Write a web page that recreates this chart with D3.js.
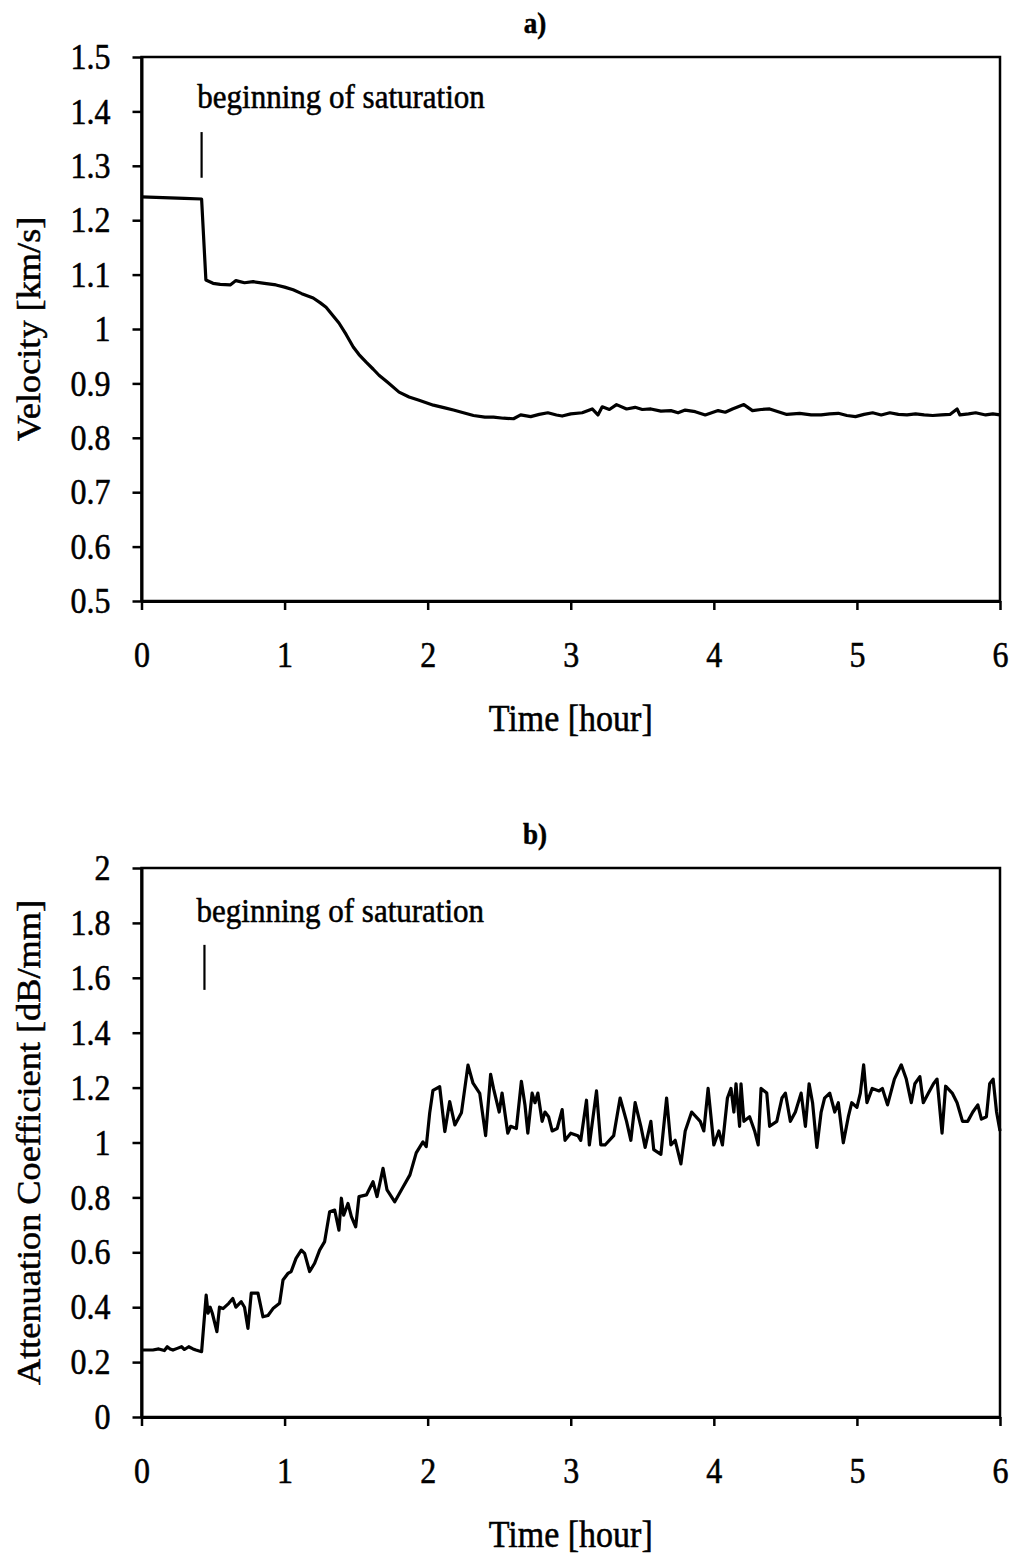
<!DOCTYPE html>
<html>
<head>
<meta charset="utf-8">
<script src="https://cdn.jsdelivr.net/npm/d3@7"></script>
<style>
  body { margin: 0; background: #fff; }
  svg text { font-family: "Liberation Serif", "Times New Roman", serif; fill: #000; stroke: #000; stroke-width: 0.5px; }
</style>
</head>
<body>
<svg id="chart" width="1015" height="1558"></svg>
<script>
// tick values for both panels
var timeTicks = [0, 1, 2, 3, 4, 5, 6];
var velocityTicks = [0.5, 0.6, 0.7, 0.8, 0.9, 1, 1.1, 1.2, 1.3, 1.4, 1.5];
var attenTicks = [0, 0.2, 0.4, 0.6, 0.8, 1, 1.2, 1.4, 1.6, 1.8, 2];

// a) velocity [km/s] vs time [hour]
var velocityData = [
  [0, 1.243], [0.1, 1.242], [0.2, 1.241], [0.3, 1.240], [0.42, 1.239], [0.45, 1.090],
  [0.5, 1.084], [0.55, 1.082], [0.62, 1.081], [0.66, 1.089], [0.72, 1.085], [0.78, 1.087],
  [0.86, 1.084], [0.94, 1.081], [1.0, 1.077], [1.06, 1.072], [1.12, 1.065], [1.2, 1.057],
  [1.25, 1.048], [1.29, 1.040], [1.33, 1.027], [1.38, 1.011], [1.43, 0.990], [1.48, 0.967],
  [1.52, 0.953], [1.57, 0.939], [1.62, 0.926], [1.66, 0.915], [1.72, 0.902], [1.8, 0.884],
  [1.87, 0.875], [1.94, 0.869], [2.04, 0.860], [2.12, 0.855], [2.18, 0.851], [2.25, 0.846],
  [2.32, 0.841], [2.4, 0.838], [2.46, 0.838], [2.53, 0.836], [2.6, 0.835], [2.65, 0.842],
  [2.72, 0.839], [2.78, 0.843], [2.84, 0.846], [2.9, 0.842], [2.94, 0.840], [3.0, 0.844],
  [3.08, 0.846], [3.15, 0.853], [3.19, 0.842], [3.22, 0.857], [3.27, 0.852], [3.32, 0.861],
  [3.39, 0.853], [3.45, 0.856], [3.5, 0.852], [3.56, 0.853], [3.63, 0.849], [3.7, 0.850],
  [3.75, 0.846], [3.8, 0.851], [3.87, 0.848], [3.94, 0.842], [4.03, 0.850], [4.08, 0.847],
  [4.13, 0.853], [4.21, 0.861], [4.27, 0.850], [4.33, 0.852], [4.39, 0.853], [4.45, 0.848],
  [4.51, 0.843], [4.6, 0.845], [4.68, 0.842], [4.75, 0.842], [4.81, 0.844], [4.87, 0.845],
  [4.93, 0.841], [4.99, 0.839], [5.05, 0.843], [5.11, 0.846], [5.17, 0.842], [5.23, 0.846],
  [5.29, 0.843], [5.35, 0.842], [5.41, 0.844], [5.47, 0.842], [5.53, 0.841], [5.59, 0.842],
  [5.65, 0.843], [5.7, 0.853], [5.72, 0.842], [5.78, 0.844], [5.83, 0.846], [5.9, 0.842],
  [5.95, 0.844], [6.0, 0.842]
];

// b) attenuation coefficient [dB/mm] vs time [hour]
var attenData = [
  [0, 0.244], [0.08, 0.244], [0.12, 0.248], [0.16, 0.242], [0.18, 0.256], [0.2, 0.248],
  [0.22, 0.244], [0.25, 0.250], [0.28, 0.256], [0.3, 0.246], [0.33, 0.256], [0.36, 0.248],
  [0.38, 0.244], [0.42, 0.238], [0.452, 0.444], [0.465, 0.378], [0.48, 0.400], [0.495, 0.378],
  [0.527, 0.311], [0.545, 0.400], [0.57, 0.395], [0.61, 0.414], [0.638, 0.432], [0.66, 0.400],
  [0.697, 0.420], [0.72, 0.400], [0.744, 0.323], [0.767, 0.451], [0.814, 0.451], [0.849, 0.365],
  [0.884, 0.370], [0.919, 0.395], [0.965, 0.414], [0.989, 0.499], [1.023, 0.523], [1.046, 0.530],
  [1.08, 0.578], [1.117, 0.608], [1.14, 0.596], [1.175, 0.530], [1.21, 0.560], [1.245, 0.608],
  [1.28, 0.639], [1.315, 0.748], [1.35, 0.754], [1.38, 0.681], [1.397, 0.797], [1.413, 0.735],
  [1.443, 0.778], [1.467, 0.730], [1.497, 0.693], [1.52, 0.803], [1.572, 0.809], [1.618, 0.857],
  [1.646, 0.803], [1.688, 0.906], [1.716, 0.827], [1.77, 0.784], [1.829, 0.839], [1.876, 0.882],
  [1.92, 0.962], [1.967, 1.002], [1.99, 0.985], [2.014, 1.107], [2.037, 1.190], [2.084, 1.203],
  [2.12, 1.040], [2.154, 1.149], [2.19, 1.064], [2.236, 1.108], [2.282, 1.282], [2.317, 1.216],
  [2.364, 1.179], [2.405, 1.025], [2.44, 1.248], [2.46, 1.197], [2.50, 1.111], [2.52, 1.180],
  [2.56, 1.034], [2.58, 1.059], [2.62, 1.051], [2.655, 1.223], [2.68, 1.137], [2.70, 1.034],
  [2.73, 1.180], [2.75, 1.145], [2.77, 1.180], [2.80, 1.077], [2.82, 1.111], [2.845, 1.094],
  [2.87, 1.042], [2.905, 1.051], [2.94, 1.120], [2.96, 1.008], [3.0, 1.034], [3.05, 1.025],
  [3.07, 1.008], [3.11, 1.154], [3.13, 0.991], [3.18, 1.188], [3.21, 0.991], [3.24, 0.991],
  [3.30, 1.025], [3.345, 1.162], [3.39, 1.077], [3.42, 1.008], [3.45, 1.145], [3.49, 1.059],
  [3.52, 0.982], [3.56, 1.077], [3.58, 0.974], [3.63, 0.957], [3.67, 1.162], [3.70, 0.991],
  [3.73, 1.008], [3.77, 0.922], [3.80, 1.042], [3.845, 1.111], [3.905, 1.077], [3.93, 1.042],
  [3.96, 1.197], [4.0, 0.991], [4.035, 1.042], [4.06, 0.991], [4.095, 1.162], [4.12, 1.197],
  [4.14, 1.111], [4.155, 1.214], [4.18, 1.059], [4.19, 1.214], [4.21, 1.077], [4.25, 1.094],
  [4.285, 1.042], [4.31, 0.991], [4.33, 1.197], [4.37, 1.180], [4.39, 1.059], [4.44, 1.077],
  [4.476, 1.162], [4.50, 1.180], [4.535, 1.077], [4.57, 1.111], [4.61, 1.180], [4.64, 1.059],
  [4.666, 1.214], [4.69, 1.145], [4.72, 0.982], [4.75, 1.111], [4.774, 1.162], [4.81, 1.180],
  [4.845, 1.111], [4.87, 1.145], [4.905, 0.999], [4.94, 1.094], [4.964, 1.145], [5.0, 1.128],
  [5.024, 1.180], [5.047, 1.283], [5.07, 1.145], [5.107, 1.197], [5.155, 1.188], [5.178, 1.197],
  [5.214, 1.137], [5.262, 1.231], [5.31, 1.283], [5.345, 1.231], [5.38, 1.145], [5.405, 1.214],
  [5.44, 1.240], [5.464, 1.145], [5.50, 1.180], [5.535, 1.214], [5.56, 1.231], [5.595, 1.034],
  [5.62, 1.205], [5.666, 1.180], [5.70, 1.145], [5.738, 1.077], [5.774, 1.077], [5.81, 1.111],
  [5.845, 1.137], [5.87, 1.085], [5.905, 1.094], [5.928, 1.214], [5.952, 1.231], [5.976, 1.111],
  [6.0, 1.042]
];

var svg = d3.select("#chart");
var stretch = 1.1; // the scan is a little taller than wide, text follows it
var fmt = d3.format("~g");

// place a text with the same vertical stretch as the scan
function addText(x, y, str, size, rotate) {
  return svg.append("text")
    .attr("transform", "translate(" + x + "," + y + ") scale(1," + stretch + ")" + (rotate ? " rotate(-90)" : ""))
    .attr("font-size", size)
    .text(str);
}

// one panel: frame, axes, curve, annotation
function drawPanel(cfg) {
  var x = d3.scaleLinear().domain([0, 6]).range([141.5, 1000]);
  var y = d3.scaleLinear().domain(cfg.yDomain).range([cfg.bottom, cfg.top]);

  // frame
  svg.append("rect")
    .attr("x", x(0)).attr("y", cfg.top)
    .attr("width", x(6) - x(0)).attr("height", cfg.bottom - cfg.top)
    .attr("fill", "none").attr("stroke", "#000").attr("stroke-width", 2.5);

  var yAxis = svg.append("g")
    .attr("transform", "translate(" + x(0) + ",0)")
    .call(d3.axisLeft(y).tickValues(cfg.yTicks).tickFormat(fmt).tickSize(9).tickSizeOuter(0).tickPadding(22));
  yAxis.select(".domain").attr("stroke-width", 3);
  yAxis.selectAll(".tick line").attr("stroke-width", 2.5);
  yAxis.selectAll(".tick text")
    .attr("font-size", 32).attr("font-family", null)
    .attr("dy", "0.33em").attr("transform", "scale(1," + stretch + ")");

  var xAxis = svg.append("g")
    .attr("transform", "translate(0," + cfg.bottom + ")")
    .call(d3.axisBottom(x).tickValues(timeTicks).tickFormat(fmt).tickSize(9).tickSizeOuter(0));
  xAxis.select(".domain").attr("stroke-width", 3);
  xAxis.selectAll(".tick line").attr("stroke-width", 2.5);
  xAxis.selectAll(".tick text")
    .attr("font-size", 32).attr("font-family", null)
    .attr("y", 66 / stretch).attr("dy", 0).attr("transform", "scale(1," + stretch + ")");

  // curve
  var line = d3.line().x(function (d) { return x(d[0]); }).y(function (d) { return y(d[1]); });
  svg.append("path")
    .datum(cfg.data)
    .attr("d", line)
    .attr("fill", "none").attr("stroke", "#000")
    .attr("stroke-width", 3.2).attr("stroke-linejoin", "round");

  // beginning of saturation marker
  svg.append("line")
    .attr("x1", x(cfg.mark[0])).attr("x2", x(cfg.mark[0]))
    .attr("y1", y(cfg.mark[1])).attr("y2", y(cfg.mark[2]))
    .attr("stroke", "#000").attr("stroke-width", 2.2);
  addText(x(cfg.note[0]), y(cfg.note[1]), "beginning of saturation", 31);

  // titles
  addText(535, cfg.top - 24, cfg.title, 27).attr("font-weight", "bold").attr("text-anchor", "middle");
  addText((x(0) + x(6)) / 2, cfg.bottom + 130, "Time [hour]", 34).attr("text-anchor", "middle");
  addText(40, (cfg.top + cfg.bottom) / 2, cfg.yLabel, 33, true).attr("text-anchor", "middle");
}

drawPanel({
  title: "a)", yLabel: "Velocity [km/s]",
  top: 57, bottom: 601, yDomain: [0.5, 1.5], yTicks: velocityTicks,
  data: velocityData, mark: [0.42, 1.278, 1.362], note: [0.39, 1.406]
});

drawPanel({
  title: "b)", yLabel: "Attenuation Coefficient [dB/mm]",
  top: 868, bottom: 1417, yDomain: [0, 2], yTicks: attenTicks,
  data: attenData, mark: [0.44, 1.556, 1.72], note: [0.385, 1.803]
});
</script>
</body>
</html>
